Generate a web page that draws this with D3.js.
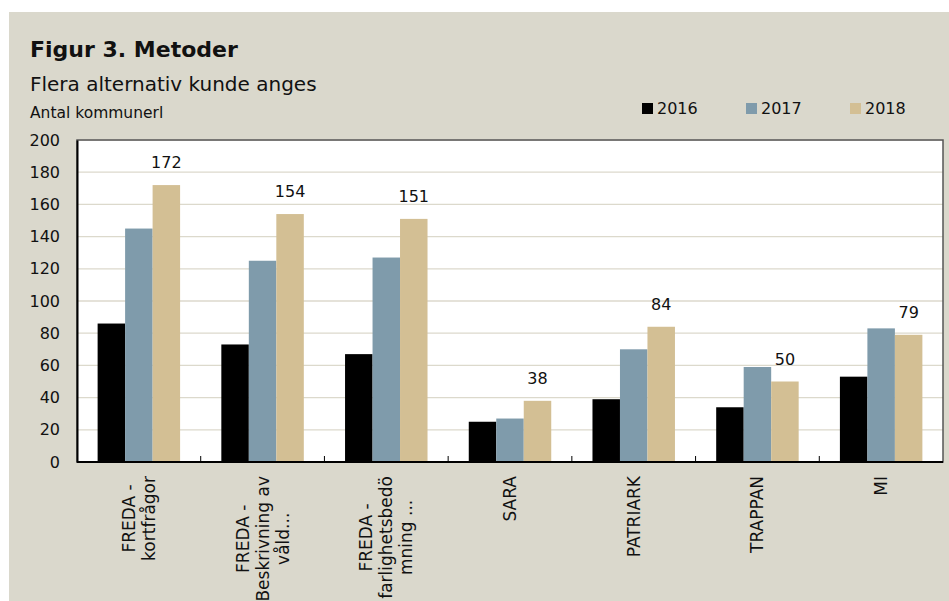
<!DOCTYPE html>
<html>
<head>
<meta charset="utf-8">
<script src="https://cdn.jsdelivr.net/npm/d3@7"></script>
<style>
    body { margin: 0; background: #fff; }
    svg text { font-family: "DejaVu Sans", sans-serif; fill: #111; }
</style>
</head>
<body>
<div id="chart"></div>
<script>
const categories = [
    ["FREDA -", "kortfrågor"],
    ["FREDA -", "Beskrivning av", "våld..."],
    ["FREDA -", "farlighetsbedö", "mning ..."],
    ["SARA"],
    ["PATRIARK"],
    ["TRAPPAN"],
    ["MI"]
];
const years = ["2016", "2017", "2018"];
const values2016 = [86, 73, 67, 25, 39, 34, 53];
const values2017 = [145, 125, 127, 27, 70, 59, 83];
const values2018 = [172, 154, 151, 38, 84, 50, 79];
const yTicks = [0, 20, 40, 60, 80, 100, 120, 140, 160, 180, 200];
const colors = ["#000000", "#7f9bab", "#d3bf94"];

const W = 949, H = 601;
const margin = { top: 140, right: 6, bottom: 139, left: 77 };
const width = W - margin.left - margin.right;
const height = H - margin.top - margin.bottom;

const svg = d3.select("#chart")
    .append("svg")
    .attr("width", W)
    .attr("height", H);

// beige panel
svg.append("rect")
    .attr("x", 9).attr("y", 12)
    .attr("width", W - 9).attr("height", H - 12)
    .attr("fill", "#dad8cc");

svg.append("text")
    .attr("x", 30).attr("y", 57)
    .style("font-size", "22px")
    .style("font-weight", "bold")
    .text("Figur 3. Metoder");

svg.append("text")
    .attr("x", 30).attr("y", 91)
    .style("font-size", "20px")
    .text("Flera alternativ kunde anges");

svg.append("text")
    .attr("x", 30).attr("y", 118)
    .style("font-size", "15.5px")
    .text("Antal kommunerl");

const g = svg.append("g")
    .attr("transform", `translate(${margin.left}, ${margin.top})`);

g.append("rect")
    .attr("width", width).attr("height", height)
    .attr("fill", "#fff");

const idx = d3.range(categories.length);
const x = d3.scaleBand()
    .domain(idx)
    .range([0, width])
    .paddingInner(0)
    .paddingOuter(0);

const inner = d3.scaleBand()
    .domain(years)
    .range([0, x.bandwidth() * 3 / 4.5]);
const groupOffset = x.bandwidth() * 0.75 / 4.5;

const y = d3.scaleLinear()
    .domain([0, 200])
    .range([height, 0]);

// gridlines
g.selectAll(".grid")
    .data(yTicks.slice(1))
    .enter()
    .append("line")
    .attr("x1", 0).attr("x2", width)
    .attr("y1", d => y(d)).attr("y2", d => y(d))
    .attr("stroke", "#dcd9cc")
    .attr("stroke-width", 1.3);

const series = [values2016, values2017, values2018];
years.forEach((yr, si) => {
    g.selectAll(".bar" + yr)
        .data(series[si])
        .enter()
        .append("rect")
        .attr("x", (d, i) => x(i) + groupOffset + inner(yr))
        .attr("y", d => y(d))
        .attr("width", inner.bandwidth())
        .attr("height", d => height - y(d))
        .attr("fill", colors[si]);
});

// data labels for 2018
g.selectAll(".lbl")
    .data(values2018)
    .enter()
    .append("text")
    .attr("x", (d, i) => x(i) + groupOffset + inner("2018") + inner.bandwidth() / 2)
    .attr("y", d => y(d) - 17)
    .attr("text-anchor", "middle")
    .style("font-size", "16px")
    .text(d => d);

// plot border
g.append("rect")
    .attr("width", width).attr("height", height)
    .attr("fill", "none")
    .attr("stroke", "#555")
    .attr("stroke-width", 1.5);

// y axis
const yAxis = g.append("g")
    .call(d3.axisLeft(y).tickValues(yTicks).tickSize(0).tickPadding(17));
yAxis.select(".domain").attr("stroke", "#000").attr("stroke-width", 2);
yAxis.selectAll("text")
    .style("font-size", "16px")
    .style("font-family", "DejaVu Sans, sans-serif")
    .attr("fill", "#111");

// x axis line and ticks at category boundaries
g.append("line")
    .attr("x1", 0).attr("x2", width)
    .attr("y1", height).attr("y2", height)
    .attr("stroke", "#000").attr("stroke-width", 2);

g.selectAll(".xtick")
    .data(idx.slice(1))
    .enter()
    .append("line")
    .attr("x1", d => x(d)).attr("x2", d => x(d))
    .attr("y1", height).attr("y2", height - 6)
    .attr("stroke", "#000").attr("stroke-width", 1);

// x labels (rotated)
const labels = g.selectAll(".xlabel")
    .data(categories)
    .enter()
    .append("text")
    .attr("transform", (d, i) => `translate(${x(i) + x.bandwidth() / 2}, ${height + 14}) rotate(-90)`)
    .attr("text-anchor", "middle")
    .style("font-size", "17px");

labels.each(function(lines) {
    const t = d3.select(this);
    const lh = 20;
    lines.forEach((line, k) => {
        t.append("tspan")
            .attr("x", 0)
            .attr("y", (k - (lines.length - 1) / 2) * lh)
            .attr("dy", "0.35em")
            .text(line);
    });
    let maxLen = 0;
    t.selectAll("tspan").each(function() {
        maxLen = Math.max(maxLen, this.getComputedTextLength());
    });
    t.selectAll("tspan").attr("x", -maxLen / 2);
});

// legend
const legX = [642, 746, 850];
years.forEach((yr, i) => {
    svg.append("rect")
        .attr("x", legX[i]).attr("y", 103)
        .attr("width", 11).attr("height", 11)
        .attr("fill", colors[i]);
    svg.append("text")
        .attr("x", legX[i] + 15).attr("y", 114)
        .style("font-size", "16px")
        .text(yr);
});
</script>
</body>
</html>
